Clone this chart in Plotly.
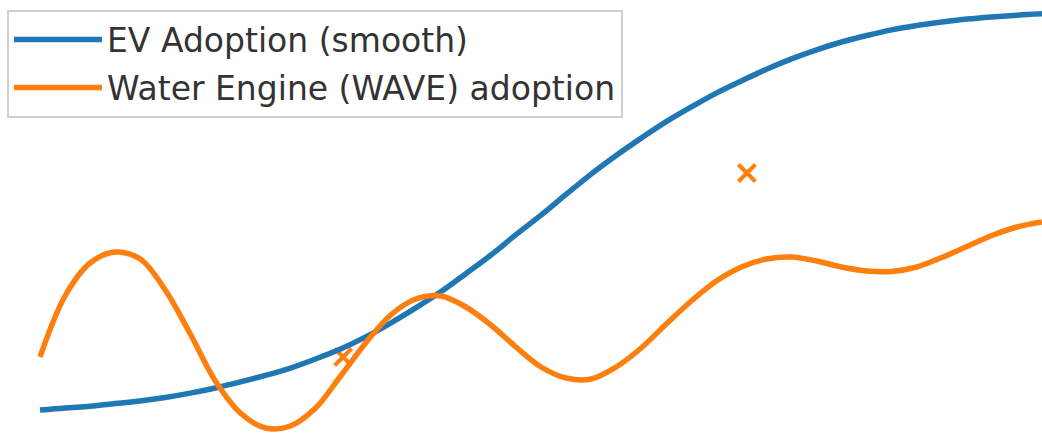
import plotly.graph_objects as go

# Years on a half-year grid for the two adoption curves
years = [2015 + 0.5 * i for i in range(41)]

# EV adoption (%), smooth S-curve
ev_adoption = [
    5.3, 5.8, 6.2, 6.8, 7.4, 8.2, 9.2, 10.4, 11.8, 13.3,
    15.0, 17.1, 19.4, 22.2, 25.4, 28.9, 32.6, 36.8, 41.1, 45.8,
    50.3, 55.1, 59.8, 64.1, 68.1, 71.9, 75.3, 78.5, 81.3, 84.0,
    86.4, 88.5, 90.3, 91.8, 93.1, 94.1, 94.9, 95.6, 96.1, 96.5, 96.8,
]

# Water engine (WAVE) adoption (%)
wave_adoption = [
    17.55, 31.64, 39.26, 41.80, 40.18, 33.03, 22.86, 12.01, 4.62, 1.15,
    1.62, 5.77, 13.16, 20.79, 27.25, 30.95, 31.64, 29.10, 24.94, 19.86,
    15.24, 12.70, 12.47, 15.24, 19.63, 25.17, 30.48, 35.10, 38.34, 40.18,
    40.65, 39.72, 38.34, 37.41, 37.30, 38.34, 40.53, 43.07, 45.61, 47.58, 48.73,
]

# Individual WAVE observations
obs_years = [2021.05, 2029.11]
obs_values = [17.55, 60.05]

BLUE = "#1f77b4"
ORANGE = "#ff7f0e"

fig = go.Figure()

fig.add_trace(go.Scatter(
    x=obs_years, y=obs_values, mode="markers", showlegend=False,
    marker=dict(symbol="x-thin", size=17, color=ORANGE,
                line=dict(color=ORANGE, width=4)),
    hoverinfo="skip",
))

fig.add_trace(go.Scatter(
    x=years, y=ev_adoption, mode="lines", name="EV Adoption (smooth)",
    legendgroup="ev",
    line=dict(color=BLUE, width=5.5, shape="spline", smoothing=1.0),
))

fig.add_trace(go.Scatter(
    x=years, y=wave_adoption, mode="lines", name="Water Engine (WAVE) adoption",
    legendgroup="wave",
    line=dict(color=ORANGE, width=5.5, shape="spline", smoothing=1.0),
))

fig.update_layout(
    width=1042, height=433,
    margin=dict(l=0, r=0, t=0, b=0),
    paper_bgcolor="white", plot_bgcolor="white",
    font=dict(family="DejaVu Sans", color="#333333"),
    xaxis=dict(range=[2015 - 40 / 50.1, 2035], visible=False, fixedrange=True),
    yaxis=dict(range=[0, 100], visible=False, fixedrange=True),
    legend=dict(
        x=0.0067, y=0.978, xanchor="left", yanchor="top",
        bgcolor="rgba(255,255,255,0.85)", bordercolor="#d0d0d0", borderwidth=2,
        font=dict(size=33, family="DejaVu Sans", color="#333333"),
        itemwidth=88, tracegroupgap=2,
    ),
)

fig.write_html("out.html")
